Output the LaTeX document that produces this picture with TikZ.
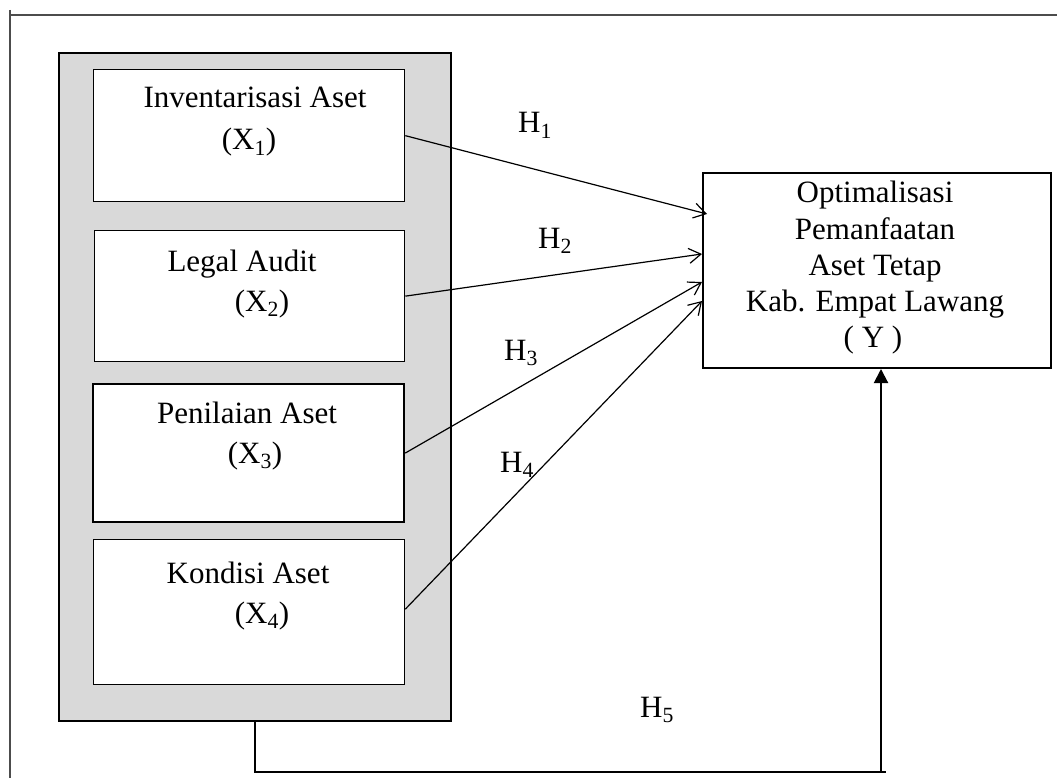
\documentclass[tikz,border=0pt]{standalone}
\usepackage{fontspec}
\setmainfont{Liberation Serif}
\usetikzlibrary{arrows.meta}
\begin{document}
\begin{tikzpicture}[x=1pt,y=-1pt,
  lbl/.style={font=\fontsize{31}{36}\selectfont, inner sep=0pt, anchor=base},
  varbox/.style={draw, fill=white, line width=1.3pt, inner sep=0pt, anchor=north west},
  hyp/.style={-{Straight Barb[length=12pt,width=15pt]}, line width=1.2pt},
  thickline/.style={line width=2pt},
]
\useasboundingbox (0,0) rectangle (1057,778);
% page frame lines
\draw[line width=1.5pt, black!70] (10,10) -- (10,778);
\draw[line width=1.5pt, black!70] (10,15) -- (1057,15);
% grey container
\node[draw, fill={rgb,255:red,217;green,217;blue,217}, line width=1.8pt, inner sep=0pt,
      anchor=north west, minimum width=392pt, minimum height=668pt] (G) at (58,52) {};
% variable boxes
\node[varbox, minimum width=311pt, minimum height=132pt] (b1) at (93,69) {};
\node[varbox, minimum width=310pt, minimum height=131pt] (b2) at (94,230) {};
\node[varbox, line width=2.2pt, minimum width=311pt, minimum height=138pt] (b3) at (92,383) {};
\node[varbox, minimum width=311pt, minimum height=145pt] (b4) at (93,539) {};
% dependent box
\node[varbox, line width=2pt, minimum width=348pt, minimum height=195pt] (Y) at (702,172) {};
% texts
\node[lbl] (t1a) at (255,108) {Inventarisasi Aset};
\node[lbl] (t1b) at (249,150) {(X\textsubscript{1})};
\node[lbl] (t2a) at (242,271) {Legal Audit};
\node[lbl] (t2b) at (262,311) {(X\textsubscript{2})};
\node[lbl] (t3a) at (247,423) {Penilaian Aset};
\node[lbl] (t3b) at (255,463) {(X\textsubscript{3})};
\node[lbl] (t4a) at (248,583) {Kondisi Aset};
\node[lbl] (t4b) at (262,623) {(X\textsubscript{4})};
\node[lbl] (ya) at (875,203) {Optimalisasi};
\node[lbl] (yb) at (875,239) {Pemanfaatan};
\node[lbl] (yc) at (875,275) {Aset Tetap};
\node[lbl] (yd) at (875,311) {Kab. Empat Lawang};
\node[lbl] (ye) at (873,347) {( Y )};
% hypothesis labels
\node[lbl] (h1) at (535,133) {H\textsubscript{1}};
\node[lbl] (h2) at (555,248) {H\textsubscript{2}};
\node[lbl] (h3) at (521,360) {H\textsubscript{3}};
\node[lbl] (h4) at (517,472) {H\textsubscript{4}};
\node[lbl] (h5) at (657,717) {H\textsubscript{5}};
% arrows
\draw[hyp] (b1.east) -- ([xshift=5pt,yshift=56.5pt]Y.west);
\draw[hyp] (b2.east) -- ([yshift=16.5pt]Y.west);
\draw[hyp] (b3.east) -- ([yshift=-11.5pt]Y.west);
\draw[hyp] ([yshift=3pt]b4.east) -- ([yshift=-30.5pt]Y.west);
% H5 connector
\coordinate (c5) at (886,772);
\coordinate (c6) at ([xshift=4pt]Y.south);
\draw[thickline] (G.south) |- (c5);
\draw[thickline, -{Triangle[length=14pt,width=14pt]}] (c6 |- c5) -- (c6);
\end{tikzpicture}
\end{document}
